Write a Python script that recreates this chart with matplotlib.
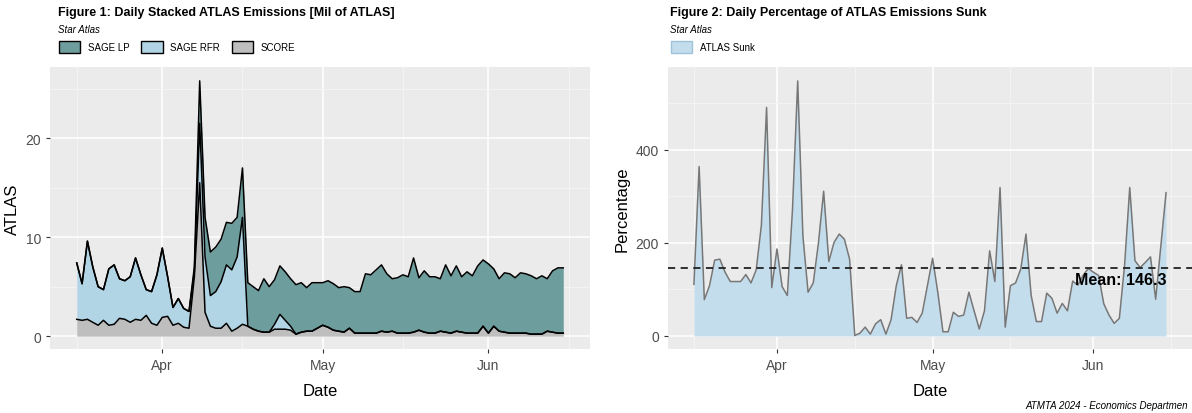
import datetime as dt
import matplotlib
matplotlib.use("Agg")
import matplotlib.pyplot as plt
import matplotlib.dates as mdates
from matplotlib.patches import Patch
import numpy as np

plt.rcParams['font.family'] = ['Liberation Sans', 'DejaVu Sans']

start = dt.date(2024, 3, 16)
dates = [start + dt.timedelta(days=i) for i in range(92)]

# Mil ATLAS per day
score = [1.7, 1.6, 1.7, 1.4, 1.1, 1.6, 1.1, 1.2, 1.8, 1.7, 1.4, 1.7, 1.6, 2.1, 1.3, 1.1, 1.9, 2.0, 1.1, 1.3, 0.9, 0.8,
         6.0, 15.5, 2.4, 1.0, 0.8, 0.8, 1.3, 0.5, 0.8, 1.2, 1.0,
         0.7, 0.5, 0.4, 0.4, 0.7, 0.7, 0.7, 0.6, 0.2, 0.4, 0.5, 0.5,
         0.8, 1.1, 0.9, 0.6, 0.5, 0.4, 0.8, 0.3, 0.3, 0.3, 0.3, 0.3, 0.5, 0.4, 0.5, 0.3, 0.3, 0.3, 0.4, 0.6,
         0.4, 0.3, 0.3, 0.5, 0.4, 0.3, 0.5, 0.4, 0.3, 0.3, 0.3, 1.0, 0.3, 1.0, 0.5, 0.4, 0.3, 0.3, 0.3, 0.3,
         0.2, 0.2, 0.2, 0.5, 0.4, 0.3, 0.3]
sage_rfr = [5.7, 3.7, 7.9, 5.6, 3.9, 3.1, 5.7, 6.0, 4.0, 3.9, 4.6, 6.2, 4.6, 2.6, 3.2, 5.1, 7.0, 4.0, 1.8, 2.5, 1.9, 1.7,
            0.5, 6.0, 5.6, 3.1, 3.7, 4.7, 5.9, 6.2, 7.2, 10.8, 0.0,
            0, 0, 0, 0, 0.5, 1.5, 0.9, 0.4, 0, 0, 0, 0] + [0] * 47
sage_lp = [0] * 22 + [0.5, 4.3, 4.0, 4.4, 4.5, 4.3, 4.3, 4.7, 4.0, 5.0, 4.4,
                      4.3, 4.1, 5.4, 4.6, 4.5, 4.9, 4.9, 4.8, 5.0, 5.0, 4.4, 4.9,
                      4.6, 4.3, 4.7, 4.7, 4.4, 4.6, 4.1, 4.2, 4.2, 6.0,
                      5.9, 6.4, 6.7, 5.9, 5.3, 5.6, 5.9, 5.7, 7.5, 5.3,
                      6.2, 5.7, 5.7, 5.3, 6.8, 5.8, 6.6, 5.6, 6.2, 5.8,
                      6.8, 6.7, 7.0, 5.8, 5.3, 6.0, 6.0, 5.6, 6.1, 6.0,
                      5.9, 5.6, 5.9, 5.3, 6.2, 6.6, 6.6]

sunk_pct = [111, 364, 78, 108, 163, 165, 137, 117, 117, 117, 132, 114, 142, 238, 491, 104, 187, 106, 87, 273,
            548, 215, 94, 114, 200, 311, 160, 201, 219, 208, 165, 1, 6, 19, 4, 26, 35, 4, 35, 108,
            153, 38, 40, 29, 49, 108, 167, 94, 9, 9, 51, 42, 45, 94, 54, 15, 54, 183, 117, 319,
            19, 108, 114, 144, 219, 87, 31, 31, 92, 81, 49, 70, 54, 118, 109, 130, 145, 137, 130, 69,
            45, 27, 38, 151, 319, 162, 147, 158, 170, 79, 194, 308]
mean_sunk = 146.3

c_lp, c_rfr, c_score = '#6e9d9d', '#b2d5e5', '#bebebe'
bg = '#ebebeb'


def ggstyle(ax):
    ax.set_facecolor(bg)
    for s in ax.spines.values():
        s.set_visible(False)
    ax.xaxis.set_major_locator(mdates.MonthLocator(bymonth=[4, 5, 6]))
    ax.xaxis.set_major_formatter(mdates.DateFormatter('%b'))
    ax.xaxis.set_minor_locator(mdates.MonthLocator(bymonthday=16))
    ax.grid(which='major', color='white', lw=1.1)
    ax.grid(which='minor', color='#f5f5f5', lw=0.6)
    ax.set_axisbelow(True)
    ax.tick_params(which='major', colors='#333333', labelcolor='#4d4d4d', labelsize=10, length=3)
    ax.tick_params(which='minor', length=0)
    ax.set_xlim(dates[0] - dt.timedelta(days=5), dates[-1] + dt.timedelta(days=5))
    ax.set_xlabel('Date', fontsize=12, labelpad=8)


fig = plt.figure(figsize=(11.92, 4.14), dpi=100)
ax1 = fig.add_axes([50 / 1192, 64 / 414, 540 / 1192, 282 / 414])
ax2 = fig.add_axes([668 / 1192, 64 / 414, 524 / 1192, 282 / 414])

# left: stacked areas
ggstyle(ax1)
a = np.array(score)
b = a + np.array(sage_rfr)
c = b + np.array(sage_lp)
ax1.fill_between(dates, b, c, color=c_lp, lw=0)
ax1.fill_between(dates, a, b, color=c_rfr, lw=0)
ax1.fill_between(dates, 0, a, color=c_score, lw=0)
for line in (a, b, c):
    ax1.plot(dates, line, color='black', lw=1.1)
ax1.set_ylim(-1.3, 27.2)
ax1.set_yticks([0, 10, 20])
ax1.set_yticks([5, 15, 25], minor=True)
ax1.set_ylabel('ATLAS', fontsize=12)

# right: percentage area
ggstyle(ax2)
ax2.fill_between(dates, 0, sunk_pct, color='#c4dded', lw=0)
ax2.plot(dates, sunk_pct, color='#777777', lw=1.1)
ax2.axhline(mean_sunk, color='#222222', ls=(0, (4, 3)), lw=1.3)
ax2.text(dates[-1], mean_sunk - 8, f'Mean: {mean_sunk}', ha='right', va='top',
         fontsize=11.5, fontweight='bold', color='black')
ax2.set_ylim(-28, 578)
ax2.set_yticks([0, 200, 400])
ax2.set_yticks([100, 300, 500], minor=True)
ax2.set_ylabel('Percentage', fontsize=12)

# titles and legends
fig.text(58 / 1192, 1 - 13 / 414, 'Figure 1: Daily Stacked ATLAS Emissions [Mil of ATLAS]',
         fontsize=9, fontweight='bold', va='center')
fig.text(58 / 1192, 1 - 30 / 414, 'Star Atlas', fontsize=7, style='italic', va='center')
fig.text(670 / 1192, 1 - 13 / 414, 'Figure 2: Daily Percentage of ATLAS Emissions Sunk',
         fontsize=9, fontweight='bold', va='center')
fig.text(670 / 1192, 1 - 30 / 414, 'Star Atlas', fontsize=7, style='italic', va='center')

h1 = [Patch(facecolor=c_lp, edgecolor='black', label='SAGE LP'),
      Patch(facecolor=c_rfr, edgecolor='black', label='SAGE RFR'),
      Patch(facecolor=c_score, edgecolor='black', label='SCORE')]
fig.legend(handles=h1, loc='center left', bbox_to_anchor=(50 / 1192, 1 - 48 / 414), ncol=3,
           frameon=False, fontsize=7, handlelength=2.2, handleheight=1.6, columnspacing=1.2)
h2 = [Patch(facecolor='#c4dded', edgecolor='#9ec3d9', label='ATLAS Sunk')]
fig.legend(handles=h2, loc='center left', bbox_to_anchor=(662 / 1192, 1 - 48 / 414),
           frameon=False, fontsize=7, handlelength=2.2, handleheight=1.6)

fig.text(1188 / 1192, 1 - 406 / 414, 'ATMTA 2024 - Economics Departmen', fontsize=7,
         style='italic', ha='right', va='center')

fig.savefig('out.png', dpi=100)
